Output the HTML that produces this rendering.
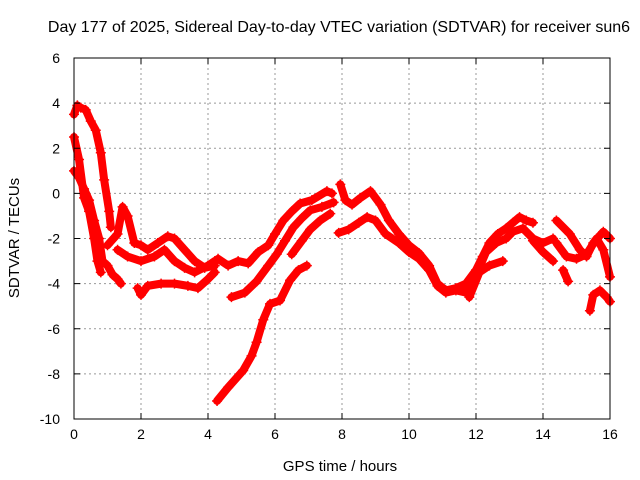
<!DOCTYPE html>
<html><head><meta charset="utf-8"><style>
body{margin:0;background:#fff}
svg{display:block;font-family:"Liberation Sans",sans-serif}
</style></head><body>
<svg id="chart" width="640" height="480" viewBox="0 0 640 480">
<rect x="0" y="0" width="640" height="480" fill="#fff"/>
<g id="grid"></g>
<g id="series"></g>
<rect x="74" y="58" width="536" height="361" fill="none" stroke="#000" stroke-width="1"/>
<g id="ticks"></g>
<text x="339" y="32" font-size="16" text-anchor="middle">Day 177 of 2025, Sidereal Day-to-day VTEC variation (SDTVAR) for receiver sun6</text>
<text x="340" y="471" font-size="15" text-anchor="middle">GPS time / hours</text>
<text x="19" y="238" font-size="15" text-anchor="middle" transform="rotate(-90 19 238)">SDTVAR / TECUs</text>
</svg>
<script>
const xTicks=[0,2,4,6,8,10,12,14,16];
const yTicks=[-10,-8,-6,-4,-2,0,2,4,6];
const trackA=[[0,3.5],[0.1,3.9],[0.2,3.8],[0.35,3.7],[0.5,3.2],[0.65,2.8],[0.8,1.8],[0.9,0.6],[1.05,-0.8],[1.1,-1.5]];
const trackB=[[0,1],[0.15,0.7],[0.3,0.2],[0.45,-0.3],[0.6,-1.2],[0.75,-2],[0.85,-3],[1.0,-3.2],[1.15,-3.6],[1.3,-3.8],[1.4,-4]];
const trackC=[[0,2.5],[0.15,1.5],[0.3,-0.2],[0.45,-0.8],[0.6,-2],[0.7,-3],[0.8,-3.5]];
const trackD=[[1.0,-2.3],[1.3,-1.8],[1.45,-0.6],[1.6,-1],[1.8,-2.2],[2.0,-2.3],[2.2,-2.5],[2.5,-2.2],[2.8,-1.9],[3.0,-2],[3.3,-2.5],[3.6,-3],[3.9,-3.3],[4.2,-3.2]];
const trackE=[[1.3,-2.5],[1.6,-2.8],[2.0,-3.0],[2.4,-2.8],[2.7,-2.5],[3.0,-3.0],[3.3,-3.3],[3.6,-3.5],[4.0,-3.2],[4.2,-3.0]];
const trackF=[[1.9,-4.2],[2.0,-4.5],[2.2,-4.1],[2.6,-4.0],[3.0,-4.0],[3.4,-4.1],[3.7,-4.2],[4.0,-3.8],[4.2,-3.5]];
const trackG=[[4.3,-2.9],[4.6,-3.2],[4.9,-3.0],[5.2,-3.1],[5.5,-2.6],[5.8,-2.3],[6.0,-1.8],[6.25,-1.2],[6.5,-0.8],[6.75,-0.45],[7.1,-0.3],[7.55,0.1],[7.7,0.0]];
const trackH=[[4.7,-4.6],[5.1,-4.4],[5.45,-3.9],[5.8,-3.2],[6.05,-2.7],[6.3,-2.1],[6.55,-1.5],[6.8,-1.1],[7.05,-0.75],[7.4,-0.6],[7.75,-0.4]];
const trackI=[[6.5,-2.7],[6.8,-2.1],[7.05,-1.6],[7.35,-1.2],[7.65,-0.9]];
const trackJ=[[4.27,-9.2],[4.6,-8.6],[5.05,-7.85],[5.3,-7.2],[5.45,-6.6],[5.65,-5.6],[5.85,-4.9],[6.15,-4.75],[6.45,-3.85],[6.7,-3.4],[6.95,-3.2]];
const trackK=[[7.95,0.4],[8.1,-0.3],[8.3,-0.5],[8.55,-0.2],[8.85,0.1],[9.15,-0.5],[9.4,-1.2],[9.7,-1.8],[10.0,-2.3],[10.3,-2.65],[10.6,-3.2],[10.85,-4.0],[11.1,-4.3],[11.4,-4.2],[11.7,-4.0],[12.0,-3.4],[12.2,-2.8],[12.4,-2.2],[12.65,-1.8],[12.9,-1.55],[13.1,-1.3],[13.3,-1.05],[13.5,-1.2],[13.7,-1.3]];
const trackK2=[[7.9,-1.75],[8.2,-1.6],[8.5,-1.3],[8.75,-1.05],[9.0,-1.2],[9.3,-1.8],[9.7,-2.2],[10.0,-2.6],[10.3,-2.9],[10.6,-3.4],[10.85,-4.1],[11.1,-4.4],[11.4,-4.3],[11.7,-4.4],[11.9,-4.0],[12.1,-3.3],[12.3,-2.6],[12.6,-2.2],[12.9,-2.0],[13.1,-1.7],[13.4,-1.55],[13.7,-2.0],[14.0,-2.2],[14.3,-2.0]];
const trackK3=[[11.8,-4.6],[12.1,-3.5],[12.4,-3.2],[12.8,-3.0]];
const trackK4=[[13.7,-2.1],[14.0,-2.6],[14.3,-3.0]];
const trackL=[[14.4,-1.2],[14.8,-1.8],[15.1,-2.5],[15.3,-2.8],[15.5,-2.2],[15.8,-1.7],[16,-2.0]];
const trackL2=[[14.4,-2.2],[14.7,-2.8],[15.0,-2.9],[15.3,-2.7],[15.6,-2.0],[15.8,-2.5],[16,-3.7]];
const trackL3=[[14.6,-3.4],[14.75,-3.9]];
const trackM=[[15.4,-5.2],[15.5,-4.5],[15.7,-4.3],[15.9,-4.6],[16,-4.8]];
const tracks=[trackA,trackB,trackC,trackD,trackE,trackF,trackG,trackH,trackI,trackJ,trackK,trackK2,trackK3,trackK4,trackL,trackL2,trackL3,trackM];

const X0=74,X1=610,Y0=419,Y1=58;
function sx(h){return X0+(h-0)/(16-0)*(X1-X0);}
function sy(v){return Y0-(v+10)/(16)*(Y0-Y1);}
const NS='http://www.w3.org/2000/svg';
function mk(t,a){const e=document.createElementNS(NS,t);for(const k in a)e.setAttribute(k,a[k]);return e;}
const grid=document.getElementById('grid'),ticks=document.getElementById('ticks'),ser=document.getElementById('series');
xTicks.forEach(t=>{
  const x=sx(t);
  if(t>0&&t<16){const g=mk('line',{x1:x,y1:Y1,x2:x,y2:Y0,stroke:'#999','stroke-dasharray':'2,3'});
  
  grid.appendChild(g);}
  const tk=mk('line',{x1:x,y1:Y0,x2:x,y2:Y0-6,stroke:'#000'});
  
  ticks.appendChild(tk);
  const tk2=mk('line',{x1:x,y1:Y1,x2:x,y2:Y1+6,stroke:'#000'});
  
  ticks.appendChild(tk2);
  const l=mk('text',{x:x,y:Y0+20,'font-size':14,'text-anchor':'middle'});l.textContent=t;
  
  ticks.appendChild(l);
});
yTicks.forEach(t=>{
  const y=sy(t);
  if(t>-10&&t<6){const g=mk('line',{x1:X0,y1:y,x2:X1,y2:y,stroke:'#999','stroke-dasharray':'2,3'});
  
  grid.appendChild(g);}
  const tk=mk('line',{x1:X0,y1:y,x2:X0+6,y2:y,stroke:'#000'});
  
  ticks.appendChild(tk);
  const tk2=mk('line',{x1:X1,y1:y,x2:X1-6,y2:y,stroke:'#000'});
  
  ticks.appendChild(tk2);
  const l=mk('text',{x:X0-14,y:y+5,'font-size':14,'text-anchor':'end'});l.textContent=t;
  
  ticks.appendChild(l);
});
tracks.forEach(tr=>{
  const p=mk('polyline',{points:tr.map(d=>sx(d[0])+','+sy(d[1])).join(' '),fill:'none',stroke:'#f00','stroke-width':8,'stroke-linejoin':'round','stroke-linecap':'round'});
  
  ser.appendChild(p);
  tr.forEach(d=>{
    const x=sx(d[0]),y=sy(d[1]);
    const m=mk('path',{d:`M${x-5},${y}H${x+5}M${x},${y-5}V${y+5}`,stroke:'#f00','stroke-width':1.5});
    
    ser.appendChild(m);
  });
});
</script>
</body></html>
